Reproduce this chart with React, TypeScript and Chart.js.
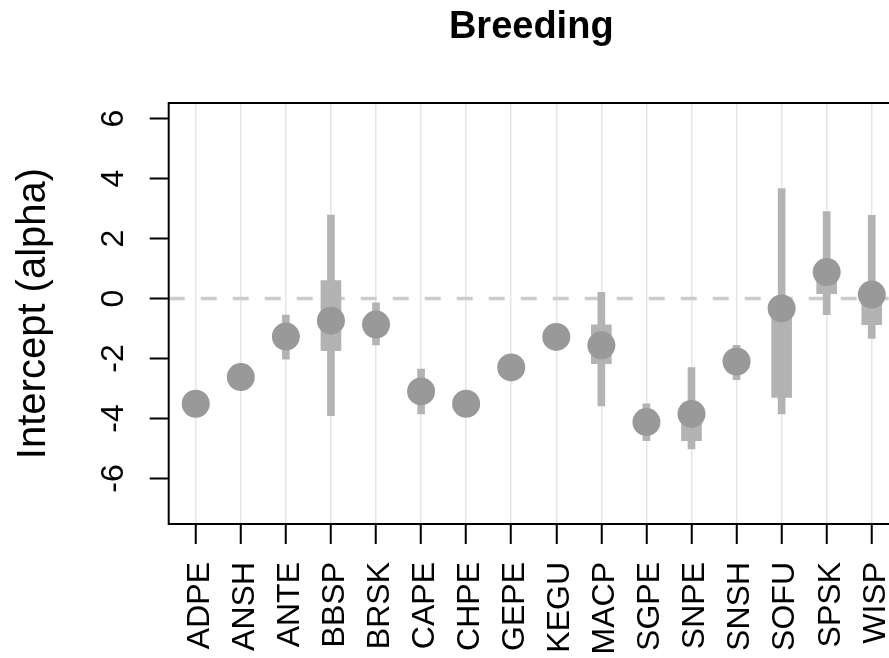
import React, { useEffect, useRef } from 'react';
import { Chart, registerables } from 'chart.js';

Chart.register(...registerables);

const categories = ['ADPE', 'ANSH', 'ANTE', 'BBSP', 'BRSK', 'CAPE', 'CHPE', 'GEPE', 'KEGU', 'MACP', 'SGPE', 'SNPE', 'SNSH', 'SOFU', 'SPSK', 'WISP'];
const estimates = [-3.51, -2.62, -1.27, -0.74, -0.87, -3.10, -3.51, -2.30, -1.28, -1.56, -4.12, -3.85, -2.10, -0.33, 0.88, 0.13];
const lower95 = [-3.85, -2.95, -2.02, -3.91, -1.55, -3.85, -3.85, -2.65, -1.6, -3.58, -4.74, -5.02, -2.71, -3.85, -0.54, -1.33];
const upper95 = [-3.2, -2.3, -0.55, 2.78, -0.14, -2.35, -3.2, -1.95, -0.95, 0.21, -3.51, -2.30, -1.56, 3.67, 2.90, 2.77];
const lower50 = [-3.7, -2.8, -1.5, -1.74, -1.1, -3.35, -3.7, -2.5, -1.45, -2.17, -4.35, -4.74, -2.3, -3.30, 0.16, -0.87];
const upper50 = [-3.35, -2.45, -1.05, 0.60, -0.65, -2.85, -3.35, -2.1, -1.1, -0.88, -3.85, -3.6, -1.9, -0.05, 1.1, 0.4];
const yTickValues = [-6, -4, -2, 0, 2, 4, 6];

const chartTitle = 'Breeding';
const yAxisTitle = 'Intercept (alpha)';

const FONT = '"Liberation Sans", Arial, Helvetica, sans-serif';

export default function App() {
  const ref = useRef<HTMLCanvasElement>(null);

  useEffect(() => {
    const canvas = ref.current;
    if (!canvas) return;

    const decor = {
      id: 'decor',
      beforeDatasetsDraw(chart: any) {
        const { ctx, chartArea: a, scales } = chart;
        const py = scales.y.getPixelForValue(0);
        ctx.save();
        ctx.beginPath();
        ctx.rect(a.left, a.top, a.right - a.left, a.bottom - a.top);
        ctx.clip();
        ctx.strokeStyle = '#cccccc';
        ctx.lineWidth = 3.5;
        ctx.setLineDash([16, 16]);
        ctx.beginPath();
        ctx.moveTo(a.left, py);
        ctx.lineTo(a.right, py);
        ctx.stroke();
        ctx.restore();
      },
      afterDraw(chart: any) {
        const { ctx, chartArea: a, scales } = chart;
        ctx.save();
        // box
        ctx.strokeStyle = '#000';
        ctx.lineWidth = 2;
        ctx.setLineDash([]);
        ctx.strokeRect(a.left, a.top, a.right - a.left, a.bottom - a.top);

        ctx.fillStyle = '#000';
        // title
        ctx.font = `bold 38px ${FONT}`;
        ctx.textAlign = 'center';
        ctx.textBaseline = 'alphabetic';
        ctx.fillText(chartTitle, (a.left + a.right) / 2 - 2.5, 38);

        // y axis title
        ctx.save();
        ctx.translate(45, (a.top + a.bottom) / 2);
        ctx.rotate(-Math.PI / 2);
        ctx.font = `40px ${FONT}`;
        ctx.textAlign = 'center';
        ctx.textBaseline = 'alphabetic';
        ctx.fillText(yAxisTitle, 0, 0);
        ctx.restore();

        // y tick labels (rotated as in the reference)
        ctx.font = `32px ${FONT}`;
        yTickValues.forEach((v) => {
          const py = scales.y.getPixelForValue(v);
          ctx.save();
          ctx.translate(123, py);
          ctx.rotate(-Math.PI / 2);
          ctx.textAlign = 'center';
          ctx.textBaseline = 'alphabetic';
          ctx.fillText(String(v), 0, 0);
          ctx.restore();
        });
        ctx.restore();
      },
    };

    const chart = new Chart(canvas, {
      type: 'scatter',
      data: {
        datasets: [
          {
            type: 'scatter',
            label: 'estimate',
            data: categories.map((_, i) => ({ x: i + 1, y: estimates[i] })),
            showLine: false,
            pointRadius: 14,
            pointHoverRadius: 14,
            pointBackgroundColor: '#999999',
            pointBorderColor: '#999999',
            pointBorderWidth: 0,
            order: 0,
          } as any,
          {
            type: 'bar',
            label: '50%',
            data: categories.map((_, i) => ({ x: i + 1, y: [lower50[i], upper50[i]] })),
            backgroundColor: '#b3b3b3',
            borderWidth: 0,
            barThickness: 20,
            grouped: false,
            order: 1,
          } as any,
          {
            type: 'bar',
            label: '95%',
            data: categories.map((_, i) => ({ x: i + 1, y: [lower95[i], upper95[i]] })),
            backgroundColor: '#b3b3b3',
            borderWidth: 0,
            barThickness: 7,
            grouped: false,
            order: 2,
          } as any,
        ],
      },
      options: {
        responsive: false,
        animation: false,
        devicePixelRatio: 1,
        events: [],
        layout: { autoPadding: false, padding: { top: 103, right: 1.2, left: 0, bottom: 0 } },
        plugins: {
          legend: { display: false },
          tooltip: { enabled: false },
          title: { display: false },
        },
        scales: {
          x: {
            type: 'linear',
            min: 0.4,
            max: 16.6,
            offset: false,
            afterBuildTicks: (s: any) => {
              s.ticks = categories.map((_, i) => ({ value: i + 1 }));
            },
            afterFit: (s: any) => {
              s.height = 134;
              s.paddingLeft = 0;
              s.paddingRight = 0;
            },
            ticks: {
              autoSkip: false,
              minRotation: 90,
              maxRotation: 90,
              padding: 18,
              labelOffset: 4,
              color: '#000',
              font: { family: FONT, size: 32 },
              callback: (v: any) => categories[Math.round(Number(v)) - 1] ?? '',
            },
            grid: {
              color: '#e6e6e6',
              lineWidth: 1.5,
              drawTicks: true,
              tickLength: 20,
              tickColor: '#000',
              tickWidth: 2,
              offset: false,
            },
            border: { display: false },
          },
          y: {
            type: 'linear',
            min: -7.52,
            max: 6.52,
            afterBuildTicks: (s: any) => {
              s.ticks = yTickValues.map((v) => ({ value: v }));
            },
            afterFit: (s: any) => {
              s.width = 168.7;
              s.paddingTop = 0;
              s.paddingBottom = 0;
            },
            ticks: { display: false },
            grid: {
              drawOnChartArea: false,
              drawTicks: true,
              tickLength: 19,
              tickColor: '#000',
              tickWidth: 2,
            },
            border: { display: false },
          },
        },
      } as any,
      plugins: [decor],
    });

    return () => chart.destroy();
  }, []);

  return (
    <div
      style={{
        position: 'fixed',
        left: 0,
        top: 0,
        width: 889,
        height: 658,
        overflow: 'hidden',
        background: '#ffffff',
      }}
    >
      <canvas ref={ref} width={900} height={658} style={{ display: 'block', width: 900, height: 658 }} />
    </div>
  );
}
